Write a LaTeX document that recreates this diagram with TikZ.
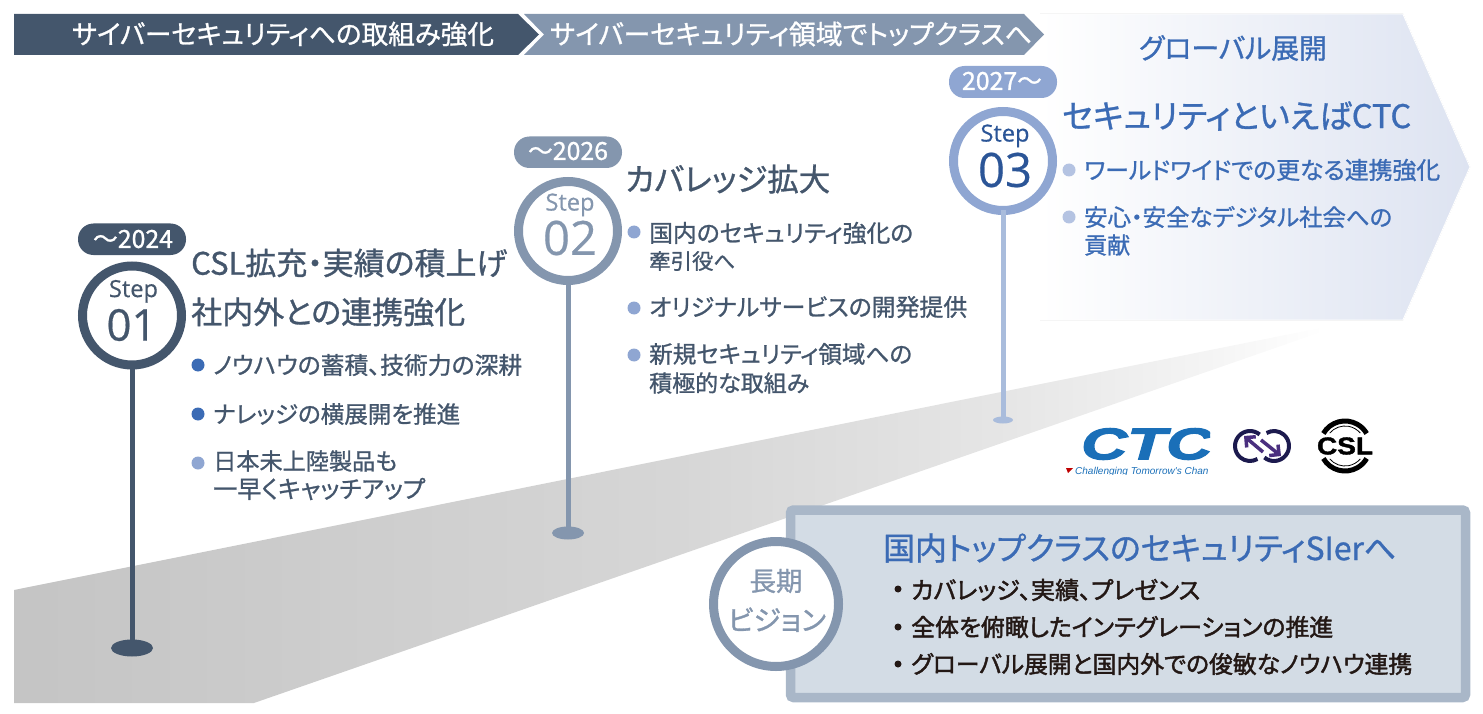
\documentclass[tikz,border=0pt]{standalone}
\usepackage{graphicx}
\usepackage{fontspec}
\setmainfont{Noto Sans CJK JP}[RawFeature=+palt]
\newfontfamily\jpm{Noto Sans CJK JP}[RawFeature=+palt,FakeBold=1.0]
\newfontfamily\jpb{Noto Sans CJK JP}[RawFeature=+palt,FakeBold=1.8]
\newfontfamily\lat{Open Sans}[FakeBold=0.4]
\newfontfamily\logoi{Liberation Sans Bold Italic}[FakeBold=2.5]
\newfontfamily\logot{Liberation Sans Italic}
\newfontfamily\logob{Liberation Sans Bold}[FakeBold=1.5]
\definecolor{navy}{HTML}{44566C}
\definecolor{slate}{HTML}{8496AE}
\definecolor{peri}{HTML}{8FA6D2}
\definecolor{peripost}{HTML}{A9BCDC}
\definecolor{perilt}{HTML}{B4C3E2}
\definecolor{azure}{HTML}{3B6BB5}
\definecolor{deep}{HTML}{2B5597}
\definecolor{inkk}{HTML}{231815}
\definecolor{boxedge}{HTML}{A9B7C8}
\definecolor{boxfill}{HTML}{D3DCE5}
\definecolor{arrowend}{HTML}{DDE3F1}
\definecolor{ctcblue}{HTML}{1A6FB8}
\definecolor{loopnavy}{HTML}{1C1A4E}
\definecolor{looppurple}{HTML}{4A2F7F}
\pgfdeclarehorizontalshading{roadshade}{100bp}{
  color(0bp)=(black!23);
  color(25bp)=(black!23);
  color(50bp)=(black!16);
  color(62bp)=(black!10);
  color(70bp)=(black!4);
  color(74bp)=(white);
  color(100bp)=(white)}
\tikzset{
  ring/.style={circle,draw=#1,line width=9pt,fill=white,minimum size=99pt,inner sep=0pt,outer sep=0pt},
  yearpill/.style={rounded corners=15.5pt,fill=#1},
  post/.style={draw=#1,line width=5pt},
  foot/.style={ellipse,fill=#1,inner sep=0pt,outer sep=0pt},
  dot/.style={circle,fill=#1,minimum size=13pt,inner sep=0pt},
  smalldot/.style={circle,fill=inkk,minimum size=7pt,inner sep=0pt},
}
\usetikzlibrary{shapes.geometric,arrows.meta}
\newcommand{\tl}[6]{\node[anchor=west,inner sep=0pt,text=#5] (#1) at (#2,#3) {\resizebox{#4pt}{!}{\fontsize{20pt}{24pt}\selectfont\vphantom{国}#6}};}
\newcommand{\tc}[6]{\node[anchor=center,inner sep=0pt,text=#5] (#1) at (#2,#3) {\resizebox{#4pt}{!}{\fontsize{20pt}{24pt}\selectfont\vphantom{国}#6}};}
\begin{document}
\begin{tikzpicture}[x=1pt,y=-1pt]
\useasboundingbox (0,0) rectangle (1483,714);
% road
\path[shading=roadshade]
  (14,590) -- (1350,322) -- (254,703) -- (14,703) -- cycle;
% big arrow
\fill[left color=white,right color=arrowend]
  (1040,14) -- (1403,14) -- (1470,167) -- (1403,320) -- (1040,320) -- cycle;
\draw[white,line width=1pt]
  (1040,14) -- (1403,14) -- (1470,167) -- (1403,320) -- (1040,320) -- cycle;
% top bars
\fill[navy] (14,14) -- (518,14) -- (539,34.5) -- (518,55) -- (14,55) -- cycle;
\fill[slate] (524,14) -- (1024,14) -- (1044,34.5) -- (1024,55) -- (524,55) -- (544,34.5) -- cycle;
\tc{bar1}{283}{34}{422}{white}{\jpm サイバーセキュリティへの取組み強化}
\tc{bar2}{791}{34}{482}{white}{\jpm サイバーセキュリティ領域でトップクラスへ}
\tc{glob}{1233}{48}{188}{azure}{\jpm グローバル展開}

% step 1
\node[foot=navy,minimum width=42pt,minimum height=17pt] (f1) at (132,648) {};
\node[ring=navy] (c1) at (132,315.5) {};
\draw[post=navy] (c1) -- (f1);
\fill[yearpill=navy] (78,223.5) rectangle (186,255);
\tc{y1}{133}{239}{80}{white}{\jpm ～2024}
\tc{s1}{133.5}{290.5}{49}{navy}{\lat Step}
\tc{n1}{131.5}{325}{50}{navy}{\lat 01}
\tl{h1a}{191}{263}{316}{navy}{\jpm CSL拡充・実績の積上げ}
\tl{h1b}{191}{312}{274}{navy}{\jpm 社内外との連携強化}
\node[dot=azure] (d1a) at (198,365) {};
\node[dot=azure] (d1b) at (198,414) {};
\node[dot=peri] (d1c) at (198,463) {};
\tl{t1a}{213}{365}{309}{navy}{\jpm ノウハウの蓄積、技術力の深耕}
\tl{t1b}{213}{414}{247}{navy}{\jpm ナレッジの横展開を推進}
\tl{t1c}{213}{461}{184}{navy}{\jpm 日本未上陸製品も}
\tl{t1d}{213}{489}{212}{navy}{\jpm 一早くキャッチアップ}

% step 2
\node[foot=slate,minimum width=32pt,minimum height=13pt] (f2) at (568,533) {};
\node[ring=slate] (c2) at (568,231) {};
\draw[post=slate] (c2) -- (f2);
\fill[yearpill=slate] (514,136.5) rectangle (622,168);
\tc{y2}{568}{151}{80}{white}{\jpm ～2026}
\tc{s2}{570}{204}{49}{slate}{\lat Step}
\tc{n2}{570}{238}{54}{slate}{\lat 02}
\tl{h2}{625}{179}{205}{navy}{\jpm カバレッジ拡大}
\node[dot=peri] (d2a) at (634,232) {};
\node[dot=peri] (d2b) at (634,308) {};
\node[dot=peri] (d2c) at (634,355) {};
\tl{t2a}{649}{233}{264}{navy}{\jpm 国内のセキュリティ強化の}
\tl{t2b}{649}{261}{86}{navy}{\jpm 牽引役へ}
\tl{t2c}{649}{307}{318}{navy}{\jpm オリジナルサービスの開発提供}
\tl{t2d}{649}{354}{263}{navy}{\jpm 新規セキュリティ領域への}
\tl{t2e}{649}{383}{160}{navy}{\jpm 積極的な取組み}

% step 3
\node[foot=peripost,minimum width=20pt,minimum height=7pt] (f3) at (1003,420) {};
\node[ring=peri] (c3) at (1003,161) {};
\draw[post=peripost] (c3) -- (f3);
\fill[yearpill=peri] (949,66) rectangle (1057,98);
\tc{y3}{1002}{81}{80}{white}{\jpm 2027～}
\tc{s3}{1005}{135}{49}{deep}{\lat Step}
\tc{n3}{1005}{170}{54}{deep}{\lat 03}
\tl{h3}{1062}{116}{349}{azure}{\jpm セキュリティといえばCTC}
\node[dot=perilt] (d3a) at (1069,170) {};
\node[dot=perilt] (d3b) at (1069,217) {};
\tl{t3a}{1084}{170}{356}{azure}{\jpm ワールドワイドでの更なる連携強化}
\tl{t3b}{1084}{217}{308}{azure}{\jpm 安心・安全なデジタル社会への}
\tl{t3c}{1084}{245}{46}{azure}{\jpm 貢献}

% logos
\begin{scope}
\clip (1060,425) rectangle (1210,474);
\node[anchor=west,inner sep=0pt,text=ctcblue] (ctc) at (1081,444) {\resizebox{131pt}{31pt}{\logoi CTC}};
\fill[red!75!black] (1066,468) -- (1073,468) -- (1068,473) -- cycle;
\node[anchor=west,inner sep=0pt,text=ctcblue] (tag) at (1075,471.5) {\fontsize{10pt}{11pt}\logot Challenging Tomorrow's Chan};
\end{scope}
\draw[loopnavy,line width=4pt] (1250,446)+(50:15pt) arc[start angle=50,end angle=300,radius=15pt];
\draw[loopnavy,line width=4pt] (1274,446)+(230:15pt) arc[start angle=230,end angle=480,radius=15pt];
\draw[looppurple,line width=3.5pt,-{Straight Barb[length=7pt,width=14pt]}] (1263,452) -- (1244,436);
\draw[looppurple,line width=3.5pt,-{Straight Barb[length=7pt,width=14pt]}] (1261,440) -- (1281,456);
\draw[black,line width=5pt] (1345,446)+(150:25pt) arc[start angle=150,end angle=30,radius=25pt];
\draw[black,line width=5pt] (1345,446)+(210:25pt) arc[start angle=210,end angle=330,radius=25pt];
\draw[black,line width=0.8pt] (1345,446)+(140:20pt) arc[start angle=140,end angle=40,radius=20pt];
\draw[black,line width=0.8pt] (1345,446)+(220:20pt) arc[start angle=220,end angle=320,radius=20pt];
\node[inner sep=0pt,text=black,fill=white] (csl) at (1345,446) {\resizebox{56pt}{17pt}{\logob CSL}};

% vision
\draw[boxedge,fill=boxfill,line width=9.5pt,rounded corners=3pt] (790.5,510) rectangle (1465.5,697.5);
\tl{v0}{883}{548}{513}{azure}{\jpm 国内トップクラスのセキュリティSIerへ}
\node[smalldot] (v1d) at (898,589) {};
\node[smalldot] (v2d) at (898,627) {};
\node[smalldot] (v3d) at (898,664) {};
\tl{v1}{911}{590}{289}{inkk}{\jpb カバレッジ、実績、プレゼンス}
\tl{v2}{911}{627}{422}{inkk}{\jpb 全体を俯瞰したインテグレーションの推進}
\tl{v3}{911}{664}{501}{inkk}{\jpb グローバル展開と国内外での俊敏なノウハウ連携}
\node[circle,draw=slate,line width=9pt,fill=white,minimum size=125pt,inner sep=0pt,outer sep=0pt] (vc) at (776,604) {};
\tc{vt1}{776}{581}{53}{slate}{\jpm 長期}
\tc{vt2}{777}{620}{98}{slate}{\jpm ビジョン}
\end{tikzpicture}
\end{document}
